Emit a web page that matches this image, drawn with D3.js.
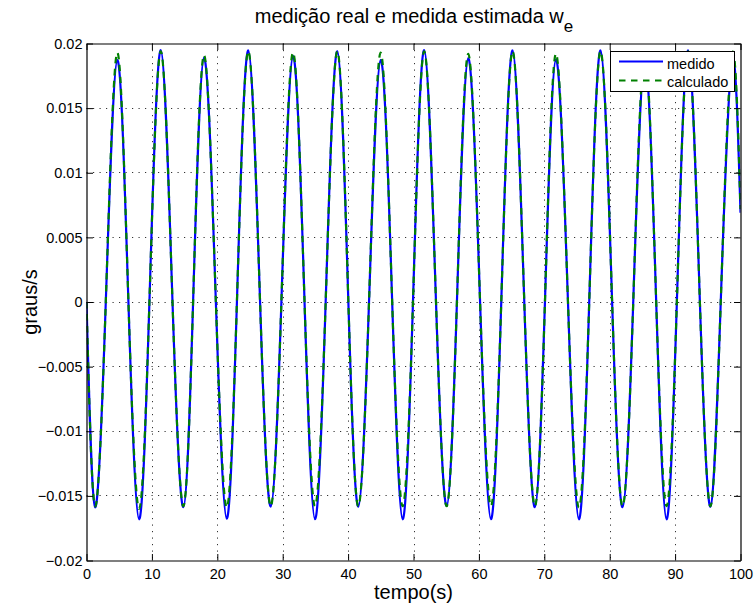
<!DOCTYPE html>
<html>
<head>
<meta charset="utf-8">
<script src="https://cdn.jsdelivr.net/npm/d3@7"></script>
<style>
  html, body { margin: 0; padding: 0; background: #fff; }
  svg { display: block; font-family: "Liberation Sans", Arial, Helvetica, sans-serif; }
</style>
</head>
<body>
<svg id="chart" width="755" height="609"></svg>
<script>
// ---- data ----
const time = [0, 1.31, 2.95, 4.72, 6.41, 8.04, 9.62, 11.36, 13.15, 14.81, 16.30, 17.97, 19.78, 21.44, 23.00,
  24.74, 26.54, 28.17, 29.80, 31.58, 33.34, 34.94, 36.57, 38.35, 40.04, 41.56, 43.20, 44.98, 46.74, 48.34,
  49.92, 51.64, 53.44, 55.07, 56.64, 58.37, 60.18, 61.84, 63.42, 65.15, 66.94, 68.56, 70.10, 71.78, 73.62,
  75.29, 76.87, 78.60, 80.37, 81.97, 83.60, 85.37, 87.11, 88.69, 90.27, 92.00, 93.79, 95.41, 96.98, 98.70, 100];

const medido = [0, -0.01588, 0, 0.01871, 0, -0.01681, 0, 0.01948, 0, -0.01588, 0, 0.01889, 0, -0.01676, 0,
  0.01946, 0, -0.01583, 0, 0.01902, 0, -0.01681, 0, 0.01940, 0, -0.01583, 0, 0.01871, 0, -0.01681,
  0, 0.01948, 0, -0.01578, 0, 0.01885, 0, -0.01681, 0, 0.01946, 0, -0.01588, 0, 0.01876, 0,
  -0.01681, 0, 0.01946, 0, -0.01588, 0, 0.01872, 0, -0.01681, 0, 0.01946, 0, -0.01583, 0, 0.01880, 0.0069];

const calculado = [0, -0.0158, 0, 0.0193, 0, -0.0160, 0, 0.0194, 0, -0.0158, 0, 0.0191, 0, -0.0159, 0,
  0.0194, 0, -0.0158, 0, 0.0193, 0, -0.0158, 0, 0.0194, 0, -0.0158, 0, 0.0193, 0, -0.0158,
  0, 0.0194, 0, -0.0158, 0, 0.0192, 0, -0.0158, 0, 0.0194, 0, -0.0158, 0, 0.0192, 0,
  -0.0159, 0, 0.0194, 0, -0.0158, 0, 0.0192, 0, -0.0158, 0, 0.0194, 0, -0.0158, 0, 0.0192, 0.0072];

const xTicks = [0, 10, 20, 30, 40, 50, 60, 70, 80, 90, 100];
const yTicks = [-0.02, -0.015, -0.01, -0.005, 0, 0.005, 0.01, 0.015, 0.02];
const seriesNames = ["medido", "calculado"];
const titleMain = "medição real e medida estimada w";
const titleSub = "e";
const xLabel = "tempo(s)";
const yLabel = "graus/s";

// ---- layout ----
const svg = d3.select("#chart");
const L = 86.5, R = 740.5, T = 43.5, B = 560.5;
const x = d3.scaleLinear().domain([0, 100]).range([L, R]);
const y = d3.scaleLinear().domain([-0.02, 0.02]).range([B, T]);
const fmt = d => d3.format("~g")(d);
const tickFont = "14.5px";

svg.append("rect").attr("width", 755).attr("height", 609).attr("fill", "#fff");

// grid
const grid = svg.append("g").attr("stroke", "#333").attr("stroke-width", 1).attr("stroke-dasharray", "1.2,5.3");
grid.selectAll("line.gx").data(xTicks.slice(1, -1)).join("line")
  .attr("x1", d => Math.round(x(d)) + 0.5).attr("x2", d => Math.round(x(d)) + 0.5)
  .attr("y1", T).attr("y2", B);
grid.selectAll("line.gy").data(yTicks.slice(1, -1)).join("line")
  .attr("y1", d => Math.round(y(d) - 0.5) + 0.5).attr("y2", d => Math.round(y(d) - 0.5) + 0.5)
  .attr("x1", L).attr("x2", R);

// clip
svg.append("clipPath").attr("id", "clip").append("rect")
  .attr("x", L).attr("y", T).attr("width", R - L).attr("height", B - T);

const line = vals => d3.line().curve(d3.curveNatural)
  .x((d, i) => x(time[i])).y(d => y(d))(vals);

const plot = svg.append("g").attr("clip-path", "url(#clip)");
plot.append("path").attr("d", line(medido)).attr("fill", "none")
  .attr("stroke", "#0000ff").attr("stroke-width", 2.2).attr("stroke-linejoin", "round");
plot.append("path").attr("d", line(calculado)).attr("fill", "none")
  .attr("stroke", "#008000").attr("stroke-width", 2.2).attr("stroke-dasharray", "6.5,5.5");

// axes (ticks inward on all four sides)
const tk = 6.5;
const styleAxis = g => {
  g.select(".domain").attr("stroke", "#000").attr("stroke-width", 1.2);
  g.selectAll(".tick line").attr("stroke", "#000").attr("stroke-width", 1);
  g.selectAll("text").attr("fill", "#000").style("font-size", tickFont);
};
svg.append("g").attr("transform", `translate(0,${B})`)
  .call(d3.axisBottom(x).tickValues(xTicks).tickFormat(fmt).tickSizeInner(-tk).tickSizeOuter(0).tickPadding(8))
  .call(styleAxis).attr("font-family", null);
svg.append("g").attr("transform", `translate(0,${T})`)
  .call(d3.axisTop(x).tickValues(xTicks).tickFormat("").tickSizeInner(-tk).tickSizeOuter(0))
  .call(styleAxis);
svg.append("g").attr("transform", `translate(${L},0)`)
  .call(d3.axisLeft(y).tickValues(yTicks).tickFormat(fmt).tickSizeInner(-tk).tickSizeOuter(0).tickPadding(4))
  .call(styleAxis).attr("font-family", null);
svg.append("g").attr("transform", `translate(${R},0)`)
  .call(d3.axisRight(y).tickValues(yTicks).tickFormat("").tickSizeInner(-tk).tickSizeOuter(0))
  .call(styleAxis);

// labels
const title = svg.append("text").attr("x", 414).attr("y", 23).attr("text-anchor", "middle")
  .style("font-size", "20px").attr("fill", "#000");
title.append("tspan").text(titleMain);
title.append("tspan").attr("dy", 9).style("font-size", "17px").text(titleSub);

svg.append("text").attr("x", (L + R) / 2).attr("y", 599).attr("text-anchor", "middle")
  .style("font-size", "20px").attr("fill", "#000").text(xLabel);
svg.append("text").attr("transform", `translate(37,${(T + B) / 2}) rotate(-90)`).attr("text-anchor", "middle")
  .style("font-size", "20px").attr("fill", "#000").text(yLabel);

// legend
const lg = svg.append("g");
lg.append("rect").attr("x", 610.5).attr("y", 51.5).attr("width", 124).attr("height", 40)
  .attr("fill", "#fff").attr("stroke", "#000").attr("stroke-width", 1);
const legendStyles = [
  { color: "#0000ff", dash: null, ly: 61.5, ty: 68.5 },
  { color: "#008000", dash: "6.5,5.5", ly: 80.5, ty: 86.5 }
];
seriesNames.forEach((name, i) => {
  const s = legendStyles[i];
  lg.append("line").attr("x1", 619).attr("x2", 663).attr("y1", s.ly).attr("y2", s.ly)
    .attr("stroke", s.color).attr("stroke-width", 2.2).attr("stroke-dasharray", s.dash);
  lg.append("text").attr("x", 667).attr("y", s.ty).style("font-size", tickFont).attr("fill", "#000").text(name);
});
</script>
</body>
</html>
